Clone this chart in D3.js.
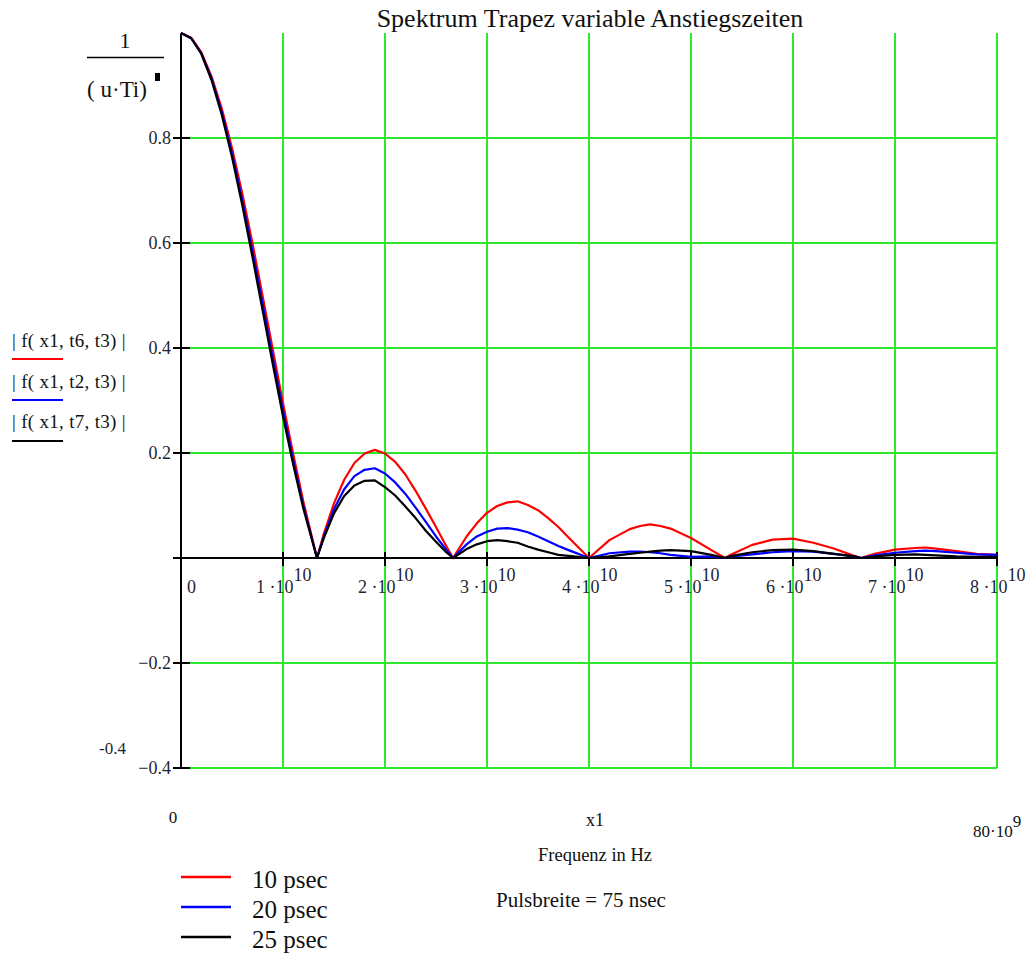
<!DOCTYPE html>
<html>
<head>
<meta charset="utf-8">
<script src="https://cdn.jsdelivr.net/npm/d3@7/dist/d3.min.js"></script>
<style>
  html, body { margin: 0; padding: 0; background: #fff; }
  svg { display: block; }
  text { font-family: "Liberation Serif", "Times New Roman", serif; fill: #111; }
</style>
</head>
<body>
<svg id="chart" width="1032" height="953"></svg>
<script>
// Frequency samples in units of 10^10 Hz
const freq = [0, 0.1, 0.2, 0.3, 0.4, 0.5, 0.6, 0.7, 0.8, 0.9,
  1.0, 1.1, 1.2, 1.333, 1.4, 1.5, 1.6, 1.7, 1.8, 1.9,
  2.0, 2.1, 2.2, 2.3, 2.4, 2.5, 2.6, 2.667, 2.8, 2.9,
  3.0, 3.1, 3.2, 3.3, 3.4, 3.5, 3.6, 3.7, 3.8, 4.0,
  4.2, 4.4, 4.5, 4.6, 4.7, 4.8, 5.0, 5.2, 5.333, 5.4,
  5.6, 5.8, 6.0, 6.2, 6.4, 6.6, 6.667, 6.8, 7.0, 7.2,
  7.3, 7.4, 7.6, 7.8, 8.0];

// |f(x1,t6,t3)|  rise time 10 psec
const spec10 = [1, 0.991, 0.963, 0.917, 0.856, 0.781, 0.695, 0.600, 0.499, 0.397,
  0.295, 0.198, 0.107, 0, 0.046, 0.104, 0.149, 0.181, 0.199, 0.206,
  0.199, 0.183, 0.159, 0.128, 0.094, 0.059, 0.023, 0, 0.041, 0.066,
  0.086, 0.099, 0.106, 0.108, 0.101, 0.091, 0.076, 0.059, 0.039, 0,
  0.034, 0.055, 0.061, 0.064, 0.061, 0.056, 0.038, 0.015, 0, 0.007,
  0.025, 0.035, 0.037, 0.029, 0.018, 0.004, 0, 0.008, 0.016, 0.019,
  0.020, 0.018, 0.013, 0.008, 0.006];

// |f(x1,t2,t3)|  rise time 20 psec
const spec20 = [1, 0.990, 0.961, 0.913, 0.849, 0.771, 0.682, 0.585, 0.484, 0.381,
  0.281, 0.186, 0.099, 0, 0.041, 0.093, 0.131, 0.156, 0.168, 0.171,
  0.161, 0.144, 0.122, 0.096, 0.069, 0.041, 0.016, 0, 0.026, 0.041,
  0.050, 0.056, 0.057, 0.054, 0.049, 0.041, 0.032, 0.023, 0.015, 0,
  0.009, 0.012, 0.012, 0.011, 0.009, 0.006, 0.002, 0.003, 0, 0.003,
  0.007, 0.011, 0.013, 0.012, 0.008, 0.003, 0, 0.005, 0.010, 0.013,
  0.014, 0.013, 0.010, 0.007, 0.006];

// |f(x1,t7,t3)|  rise time 25 psec
const spec25 = [1, 0.990, 0.960, 0.910, 0.844, 0.764, 0.673, 0.574, 0.472, 0.369,
  0.270, 0.178, 0.094, 0, 0.038, 0.085, 0.118, 0.138, 0.147, 0.148,
  0.135, 0.119, 0.098, 0.076, 0.052, 0.031, 0.011, 0, 0.017, 0.026,
  0.032, 0.034, 0.032, 0.029, 0.022, 0.016, 0.011, 0.006, 0.004, 0,
  0.003, 0.008, 0.010, 0.012, 0.014, 0.015, 0.013, 0.006, 0, 0.004,
  0.011, 0.015, 0.016, 0.013, 0.008, 0.003, 0, 0.003, 0.006, 0.007,
  0.006, 0.005, 0.003, 0.002, 0.002];

const seriesNames = ["| f( x1, t6, t3) |", "| f( x1, t2, t3) |", "| f( x1, t7, t3) |"];
const legendLabels = ["10 psec", "20 psec", "25 psec"];
const seriesColors = ["#ff0000", "#0000ff", "#000000"];

const xTicks = [0, 1, 2, 3, 4, 5, 6, 7, 8];
const yTicks = [-0.4, -0.2, 0, 0.2, 0.4, 0.6, 0.8];
const yTickLabels = ["\u22120.4", "\u22120.2", "", "0.2", "0.4", "0.6", "0.8"];

const svg = d3.select("#chart");
const x = d3.scaleLinear().domain([0, 8]).range([181, 997]);
const y = d3.scaleLinear().domain([-0.4, 1]).range([768, 33]);
const gridColor = "#2ee82e";
const labelColor = "#1f2433";

// grid
const grid = svg.append("g").attr("shape-rendering", "crispEdges");
grid.selectAll("line.v").data(xTicks.filter(d => d > 0)).enter().append("line")
  .attr("x1", d => x(d)).attr("x2", d => x(d))
  .attr("y1", y(1)).attr("y2", y(-0.4))
  .attr("stroke", gridColor).attr("stroke-width", 1.5);
grid.selectAll("line.h").data(yTicks.filter(d => d !== 0)).enter().append("line")
  .attr("x1", x(0)).attr("x2", x(8))
  .attr("y1", d => y(d)).attr("y2", d => y(d))
  .attr("stroke", gridColor).attr("stroke-width", 1.5);

// axes
const axes = svg.append("g").attr("shape-rendering", "crispEdges");
axes.append("line").attr("x1", x(0)).attr("x2", x(0)).attr("y1", y(1)).attr("y2", y(-0.4))
  .attr("stroke", "#000").attr("stroke-width", 2);
axes.append("line").attr("x1", x(0)).attr("x2", x(8)).attr("y1", y(0)).attr("y2", y(0))
  .attr("stroke", "#000").attr("stroke-width", 2);
axes.selectAll("line.yt").data(yTicks).enter().append("line")
  .attr("x1", x(0) - 8).attr("x2", x(0) + 9)
  .attr("y1", d => y(d)).attr("y2", d => y(d))
  .attr("stroke", "#000").attr("stroke-width", 2);
axes.selectAll("line.xt").data(xTicks.filter(d => d > 0)).enter().append("line")
  .attr("x1", d => x(d)).attr("x2", d => x(d))
  .attr("y1", y(0) - 6).attr("y2", y(0) + 8)
  .attr("stroke", "#000").attr("stroke-width", 2);

// y tick labels
svg.append("g").selectAll("text").data(yTicks).enter().append("text")
  .attr("x", x(0) - 10).attr("y", d => y(d) + 6)
  .attr("text-anchor", "end").attr("font-size", 18)
  .style("fill", labelColor)
  .text((d, i) => yTickLabels[i]);

// x tick labels  "k ·10^10"
const xl = svg.append("g");
xTicks.forEach(k => {
  if (k === 0) {
    xl.append("text").attr("x", x(0) + 6).attr("y", y(0) + 35)
      .attr("font-size", 18).style("fill", labelColor).text("0");
    return;
  }
  const t = xl.append("text").attr("x", x(k) - 27).attr("y", y(0) + 35)
    .attr("font-size", 18).style("fill", labelColor);
  t.append("tspan").text(k + " \u00B710");
  t.append("tspan").attr("dy", -12).text("10");
});

// curves
const line = d3.line().x((d, i) => x(freq[i])).y(d => y(d));
[spec10, spec20, spec25].forEach((s, i) => {
  svg.append("path").datum(s).attr("d", line)
    .attr("fill", "none").attr("stroke", seriesColors[i])
    .attr("stroke-width", 2.2).attr("stroke-linejoin", "round");
});

// title
svg.append("text").attr("x", 590).attr("y", 27).attr("text-anchor", "middle")
  .attr("font-size", 26).text("Spektrum Trapez variable Anstiegszeiten");

// y label: 1 / (u·Ti)
svg.append("text").attr("x", 125).attr("y", 48).attr("text-anchor", "middle")
  .attr("font-size", 22).text("1");
svg.append("line").attr("x1", 87).attr("x2", 164).attr("y1", 57.5).attr("y2", 57.5)
  .attr("stroke", "#000").attr("stroke-width", 1.5);
svg.append("text").attr("x", 117).attr("y", 97).attr("text-anchor", "middle")
  .attr("font-size", 23).text("( u\u00B7Ti)");
svg.append("rect").attr("x", 155).attr("y", 73).attr("width", 5).attr("height", 8).attr("fill", "#000");

// series names on the left
seriesNames.forEach((n, i) => {
  svg.append("text").attr("x", 12).attr("y", 347 + i * 40.5)
    .attr("font-size", 19).attr("letter-spacing", 0.3).text(n);
  svg.append("line").attr("x1", 12).attr("x2", 63)
    .attr("y1", 359 + i * 41).attr("y2", 359 + i * 41)
    .attr("stroke", seriesColors[i]).attr("stroke-width", 2);
});

// axis limit labels and axis titles
svg.append("text").attr("x", 126).attr("y", 754).attr("text-anchor", "end")
  .attr("font-size", 17).style("fill", labelColor).text("-0.4");
svg.append("text").attr("x", 173).attr("y", 823).attr("text-anchor", "middle")
  .attr("font-size", 17).text("0");
svg.append("text").attr("x", 595).attr("y", 826).attr("text-anchor", "middle")
  .attr("font-size", 18).text("x1");
const xmax = svg.append("text").attr("x", 973).attr("y", 837).attr("font-size", 17);
xmax.append("tspan").text("80\u00B710");
xmax.append("tspan").attr("dy", -10).text("9");
svg.append("text").attr("x", 595).attr("y", 861).attr("text-anchor", "middle")
  .attr("font-size", 18.5).text("Frequenz in Hz");

// bottom legend
legendLabels.forEach((l, i) => {
  svg.append("line").attr("x1", 181).attr("x2", 231)
    .attr("y1", 877 + i * 30).attr("y2", 877 + i * 30)
    .attr("stroke", seriesColors[i]).attr("stroke-width", 2.5);
  svg.append("text").attr("x", 252).attr("y", 888 + i * 30)
    .attr("font-size", 25).text(l);
});

svg.append("text").attr("x", 581).attr("y", 907).attr("text-anchor", "middle")
  .attr("font-size", 21).text("Pulsbreite = 75 nsec");
</script>
</body>
</html>
